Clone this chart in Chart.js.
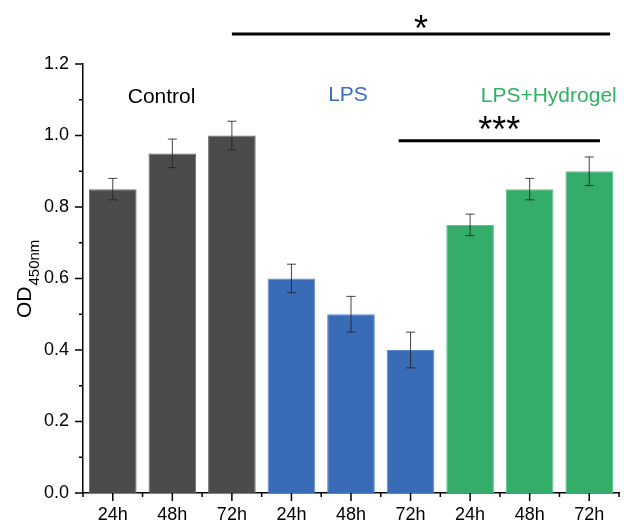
<!DOCTYPE html>
<html>
<head>
<meta charset="utf-8">
<script src="https://cdn.jsdelivr.net/npm/chart.js@4.4.1/dist/chart.umd.min.js"></script>
<style>
  html, body { margin: 0; padding: 0; background: #fff; }
</style>
</head>
<body>
<canvas id="od-chart" width="624" height="522"></canvas>
<script>
const timePoints = ['24h', '48h', '72h'];
const groupNames = ['Control', 'LPS', 'LPS+Hydrogel'];
const controlValues = [0.85, 0.95, 1.00];
const controlErrors = [0.03, 0.04, 0.04];
const lpsValues = [0.60, 0.50, 0.40];
const lpsErrors = [0.04, 0.05, 0.05];
const hydrogelValues = [0.75, 0.85, 0.90];
const hydrogelErrors = [0.03, 0.03, 0.04];
const yTicks = [0, 0.2, 0.4, 0.6, 0.8, 1.0, 1.2];

const FONT = '"Liberation Sans", Arial, sans-serif';
const groupColors = ['#4b4b4b', '#3a6bb6', '#35ad6a'];
const groupEdges = ['#6e6e6e', '#5c88cc', '#5cc287'];
const groupTextColors = ['#000000', '#3a6bc2', '#2fb163'];

// 9 bars, 3 time points per group
const labels = [...timePoints, ...timePoints, ...timePoints];
const values = [...controlValues, ...lpsValues, ...hydrogelValues];
const errors = [...controlErrors, ...lpsErrors, ...hydrogelErrors];
const barColors = labels.map((_, i) => groupColors[Math.floor(i / 3)]);
const edgeColors = labels.map((_, i) => groupEdges[Math.floor(i / 3)]);

// group captions: x in category units, y in data units
const groupCaptions = [
    { text: groupNames[0], x: 0.82, y: 1.091 },
    { text: groupNames[1], x: 3.95, y: 1.097 },
    { text: groupNames[2], x: 7.32, y: 1.093 }
];

// significance lines: from / to in category units, y in data units
const brackets = [
    { label: '*', from: 2.0, to: 8.35, y: 1.284, lift: 7 },
    { label: '***', from: 4.8, to: 8.18, y: 0.985, lift: 1 }
];

const errorBarPlugin = {
    id: 'errorBars',
    afterDatasetsDraw(chart) {
        const ctx = chart.ctx;
        const yScale = chart.scales.y;
        const meta = chart.getDatasetMeta(0);
        ctx.save();
        ctx.strokeStyle = 'rgba(35,35,35,0.85)';
        ctx.lineWidth = 1;
        meta.data.forEach((bar, i) => {
            const top = yScale.getPixelForValue(values[i] + errors[i]);
            const bot = yScale.getPixelForValue(values[i] - errors[i]);
            ctx.beginPath();
            ctx.moveTo(bar.x, top);
            ctx.lineTo(bar.x, bot);
            ctx.moveTo(bar.x - 4.5, top);
            ctx.lineTo(bar.x + 4.5, top);
            ctx.moveTo(bar.x - 4.5, bot);
            ctx.lineTo(bar.x + 4.5, bot);
            ctx.stroke();
        });
        ctx.restore();
    }
};

const decorPlugin = {
    id: 'decor',
    afterDraw(chart) {
        const ctx = chart.ctx;
        const xs = chart.scales.x;
        const ys = chart.scales.y;
        const area = chart.chartArea;
        ctx.save();

        // tick marks: major + minor
        ctx.strokeStyle = '#000';
        ctx.lineWidth = 1.5;
        ctx.beginPath();
        ys.ticks.forEach((t, k) => {
            const py = ys.getPixelForValue(t.value);
            ctx.moveTo(area.left - 8, py);
            ctx.lineTo(area.left, py);
            if (k < ys.ticks.length - 1) {
                const mid = ys.getPixelForValue((t.value + ys.ticks[k + 1].value) / 2);
                ctx.moveTo(area.left - 4, mid);
                ctx.lineTo(area.left, mid);
            }
        });
        for (let i = 0; i < labels.length; i++) {
            const px = xs.getPixelForValue(i);
            ctx.moveTo(px, area.bottom);
            ctx.lineTo(px, area.bottom + 8);
        }
        for (let i = 0; i <= labels.length; i++) {
            const px = xs.getPixelForValue(i - 0.5);
            ctx.moveTo(px, area.bottom);
            ctx.lineTo(px, area.bottom + 4);
        }
        ctx.stroke();

        // group captions
        ctx.font = '21px ' + FONT;
        ctx.textAlign = 'center';
        ctx.textBaseline = 'alphabetic';
        groupCaptions.forEach((g, i) => {
            ctx.fillStyle = groupTextColors[i];
            ctx.fillText(g.text, xs.getPixelForValue(g.x), ys.getPixelForValue(g.y));
        });

        // significance lines
        ctx.fillStyle = '#000';
        ctx.lineWidth = 3;
        brackets.forEach(b => {
            const x1 = xs.getPixelForValue(b.from);
            const x2 = xs.getPixelForValue(b.to);
            const py = ys.getPixelForValue(b.y);
            ctx.beginPath();
            ctx.moveTo(x1, py);
            ctx.lineTo(x2, py);
            ctx.stroke();
            ctx.font = '36px ' + FONT;
            ctx.fillText(b.label, (x1 + x2) / 2, py + b.lift);
        });

        // y axis title with subscript
        ctx.translate(31, 318);
        ctx.rotate(-Math.PI / 2);
        ctx.textAlign = 'left';
        ctx.font = '21px ' + FONT;
        ctx.fillText('OD', 0, 0);
        const w = ctx.measureText('OD').width;
        ctx.font = '15px ' + FONT;
        ctx.fillText('450nm', w + 1, 8);

        ctx.restore();
    }
};

const chart = new Chart(document.getElementById('od-chart'), {
    type: 'bar',
    data: {
        labels: labels,
        datasets: [{
            data: values,
            backgroundColor: barColors,
            borderColor: edgeColors,
            borderWidth: 1,
            categoryPercentage: 1.0,
            barPercentage: 0.8
        }]
    },
    options: {
        responsive: false,
        animation: false,
        layout: { padding: { top: 64, right: 5, left: 0, bottom: 0 } },
        plugins: {
            legend: { display: false },
            tooltip: { enabled: false }
        },
        scales: {
            x: {
                grid: { display: false, drawTicks: false },
                border: { display: true, color: '#000', width: 1.5 },
                ticks: {
                    color: '#000',
                    padding: 11,
                    maxRotation: 0,
                    autoSkip: false,
                    font: { family: FONT, size: 18 }
                },
                afterFit(scale) { scale.height = 29; }
            },
            y: {
                min: 0,
                max: 1.2,
                grid: { display: false, drawTicks: false },
                border: { display: true, color: '#000', width: 1.5 },
                afterBuildTicks(scale) {
                    scale.ticks = yTicks.map(v => ({ value: v }));
                },
                ticks: {
                    color: '#000',
                    padding: 14,
                    font: { family: FONT, size: 18 },
                    callback: v => Number(v).toFixed(1)
                },
                afterFit(scale) { scale.width = 83; }
            }
        }
    },
    plugins: [errorBarPlugin, decorPlugin]
});
</script>
</body>
</html>
